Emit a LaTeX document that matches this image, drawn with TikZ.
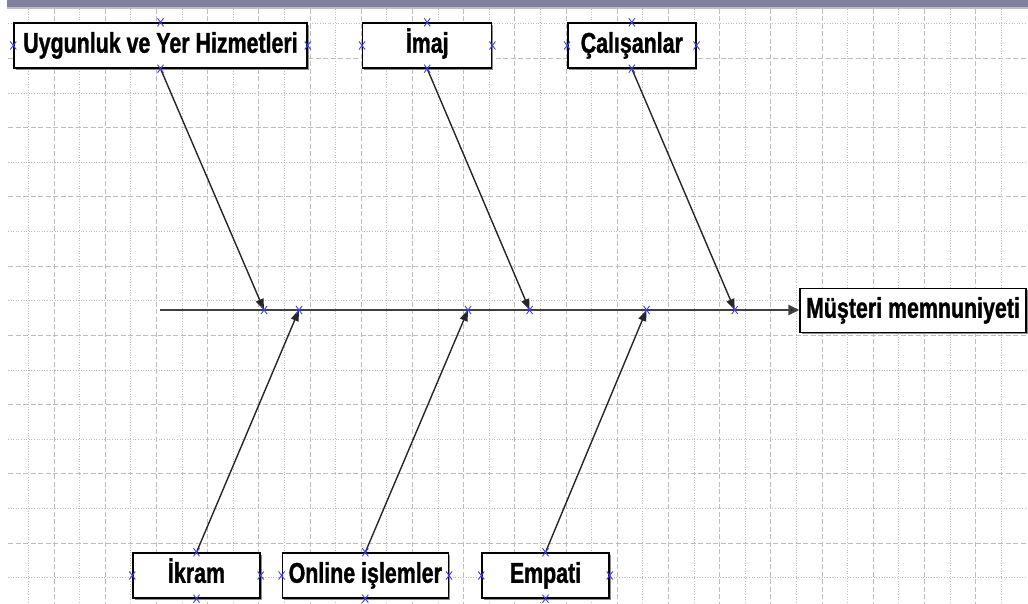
\documentclass[tikz,border=0pt]{standalone}
\usepackage{fontspec}
\newfontfamily\boxfont[FakeStretch=0.75,FakeBold=1.2]{Liberation Sans}
\usetikzlibrary{arrows.meta,shadows}
\definecolor{barcol}{RGB}{128,128,160}
\definecolor{gridcol}{RGB}{190,190,190}
\definecolor{xcol}{RGB}{60,60,255}
\tikzset{
  box/.style={draw=black, line width=1.4pt, fill=white, inner sep=0pt,
    minimum height=45pt, text height=20pt, text depth=5.5pt,
    font=\boxfont\bfseries\fontsize{28.5}{30}\selectfont,
    drop shadow={shadow xshift=1.6pt, shadow yshift=-1.6pt, fill=black!45, opacity=1}},
  arr/.style={draw=black!85, line width=1.4pt, -{Triangle[length=11pt,width=8pt]}},
  spine/.style={draw=black!75, line width=2.8pt, -{Triangle[length=11pt,width=10pt,fill=black]}},
  gdash/.style={draw=gridcol, line width=0.8pt, dash pattern=on 5pt off 2.5pt},
  gdot/.style={draw=gridcol, line width=0.8pt, dash pattern=on 1pt off 1.6pt},
  xm/.pic={\draw[xcol, line width=0.9pt] (-3,-4) -- (3,4) (-3,4) -- (3,-4);}
}
\begin{document}
\begin{tikzpicture}[x=1pt, y=-1pt]
\useasboundingbox (0,0) rectangle (1028,604);
% top bar
\fill[barcol] (7,0) rectangle (1028,7);
\fill[black!25] (7,7) rectangle (1028,9);
% grid
\begin{scope}
\clip (8,9) rectangle (1026,604);
\foreach \k in {0,...,18} {
  \draw[gdash] ({54+51.2*\k},9) -- ({54+51.2*\k},604);
  \draw[gdot] ({28.4+51.2*\k},9) -- ({28.4+51.2*\k},604);
}
\draw[gdot] ({28.4+51.2*19},9) -- ({28.4+51.2*19},604);
\foreach \k in {0,...,7} {
  \draw[gdash] (8,{58.5+69.2*\k}) -- (1026,{58.5+69.2*\k});
}
\foreach \k in {0,...,8} {
  \draw[gdot] (8,{23.9+69.2*\k}) -- (1026,{23.9+69.2*\k});
}
\end{scope}
% boxes
\node[box, minimum width=293pt] (u) at (160.5,45.5) {Uygunluk ve Yer Hizmetleri};
\node[box, minimum width=129pt] (i) at (427.2,45.5) {İmaj};
\node[box, minimum width=128pt] (c) at (631.8,45.5) {Çalışanlar};
\node[box, minimum width=226pt, minimum height=44pt] (m) at (913,310.5) {Müşteri memnuniyeti};
\node[box, minimum width=127pt] (k) at (196.5,575.5) {İkram};
\node[box, minimum width=166pt] (o) at (365.3,575.5) {Online işlemler};
\node[box, minimum width=127pt] (e) at (545.5,575.5) {Empati};
% spine
\coordinate (s0) at (160,310);
\coordinate (s1) at (264,310);
\coordinate (s2) at (299,310);
\coordinate (s3) at (468,310);
\coordinate (s4) at (529.6,310);
\coordinate (s5) at (646.5,310);
\coordinate (s6) at (734.7,310);
\draw[spine] (s0) -- (m.west |- s0);
% bones
\draw[arr] (u.south) -- (s1);
\draw[arr] (i.south) -- (s4);
\draw[arr] (c.south) -- (s6);
\draw[arr] (k.north) -- (s2);
\draw[arr] (o.north) -- (s3);
\draw[arr] (e.north) -- (s5);
% connection markers
\foreach \n in {u,i,c,k,o,e} {
  \pic at (\n.north) {xm};
  \pic at (\n.south) {xm};
  \pic at (\n.west) {xm};
  \pic at (\n.east) {xm};
}
\foreach \s in {s1,s2,s3,s4,s5,s6} {
  \pic at (\s) {xm};
}
\end{tikzpicture}
\end{document}
